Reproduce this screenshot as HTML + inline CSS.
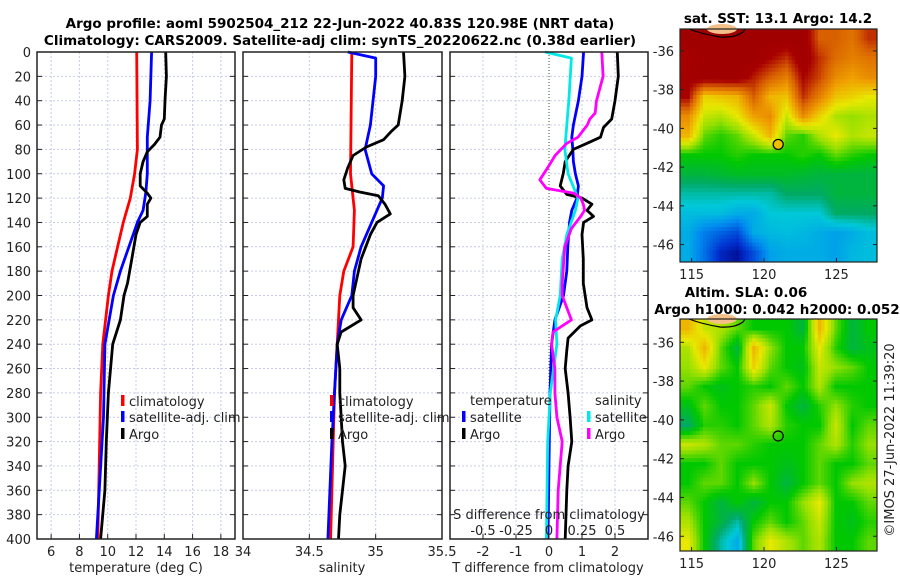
<!DOCTYPE html>
<html><head><meta charset="utf-8"><style>
body{margin:0;background:#fff;}
svg{display:block;font-family:"DejaVu Sans","Liberation Sans",sans-serif;}
</style></head><body>
<svg id="fig" width="900" height="580" viewBox="0 0 900 580" xmlns="http://www.w3.org/2000/svg">
<rect width="900" height="580" fill="#fff"/>
<g id="grids"></g>
<g id="series"></g>
<g id="maps"></g>
<g id="frames"></g>
<g id="texts" font-size="13" fill="#222">
<text x="340" y="28" text-anchor="middle" font-weight="bold" font-size="13.5" fill="#000">Argo profile: aoml 5902504_212 22-Jun-2022 40.83S 120.98E (NRT data)</text>
<text x="340" y="45" text-anchor="middle" font-weight="bold" font-size="13.5" fill="#000">Climatology: CARS2009. Satellite-adj clim: synTS_20220622.nc (0.38d earlier)</text>
<text x="778" y="23" text-anchor="middle" font-weight="bold" font-size="13.5" fill="#000">sat. SST: 13.1 Argo: 14.2</text>
<text x="746" y="297" text-anchor="middle" font-weight="bold" font-size="13.5" fill="#000">Altim. SLA: 0.06</text>
<text x="777" y="314" text-anchor="middle" font-weight="bold" font-size="13.5" fill="#000">Argo h1000: 0.042 h2000: 0.052</text>
<text x="136" y="572" text-anchor="middle">temperature (deg C)</text>
<text x="342" y="572" text-anchor="middle">salinity</text>
<text x="548" y="572" text-anchor="middle">T difference from climatology</text>
<text x="549" y="519" text-anchor="middle">S difference from climatology</text>
<text transform="translate(894,440) rotate(-90)" text-anchor="middle">©IMOS 27-Jun-2022 11:39:20</text>
</g>
<g id="legends" font-size="13" fill="#222"></g>
</svg>
<script>
// ---------- profile data ----------
const climDepth=[0,80,100,120,140,160,180,200,240,280,400];
const climT=[12.05,12.1,11.9,11.6,11.1,10.7,10.3,10.05,9.65,9.5,9.3];
const satDepth=[0,40,70,100,115,130,140,160,180,200,240,300,400];
const satT=[13.1,13.0,12.8,12.8,12.7,12.5,12.1,11.5,10.9,10.4,9.8,9.7,9.2];
const argoTDepth=[0,20,40,55,60,70,76,82,90,100,110,116,120,125,135,140,150,170,190,200,220,240,280,320,360,400];
const argoT=[14.1,14.15,14.05,14.0,13.8,13.7,13.3,12.8,12.5,12.3,12.3,12.8,13.05,12.8,12.8,12.3,12.0,11.7,11.4,11.15,10.9,10.35,10.05,9.9,9.8,9.5];

const climSDepth=[0,100,130,160,180,200,240,280,320,400];
const climS=[34.82,34.81,34.84,34.83,34.76,34.73,34.71,34.69,34.68,34.66];
const satSDepth=[0,5,20,60,80,100,110,120,140,160,180,200,220,240,280,320,400];
const satS=[34.79,35.0,35.0,34.96,34.92,34.97,35.06,35.05,34.97,34.89,34.84,34.82,34.74,34.71,34.69,34.67,34.64];
const argoSDepth=[0,20,40,60,65,72,78,85,95,105,112,115,118,125,133,140,150,170,200,210,220,230,240,260,280,300,320,340,360,380,400];
const argoS=[35.21,35.22,35.2,35.17,35.12,35.06,34.93,34.83,34.79,34.76,34.77,34.88,35.02,35.07,35.11,35.01,34.96,34.89,34.83,34.83,34.89,34.74,34.71,34.73,34.73,34.74,34.75,34.77,34.75,34.73,34.72];

const dSatSDepth=[0,5,40,80,100,120,130,150,170,200,220,240,280,320,400];
const dSatS=[-0.03,0.17,0.15,0.12,0.145,0.22,0.2,0.135,0.1,0.085,0.05,0.06,0.01,-0.01,-0.02];
const dSatTDepth=[0,20,40,60,70,80,90,100,110,120,130,140,160,180,200,220,240,280,320,400];
const dSatT=[1.05,1.0,0.89,0.74,0.69,0.72,0.74,0.8,0.89,0.85,0.69,0.62,0.57,0.54,0.44,0.18,0.08,0.03,0.01,-0.03];
const dArgoSDepth=[0,20,40,50,55,60,70,75,85,95,105,112,116,120,125,130,135,145,160,175,190,200,210,220,225,230,240,260,280,300,320,340,360,400];
const dArgoS=[0.40,0.41,0.36,0.35,0.31,0.29,0.22,0.135,0.046,-0.01,-0.07,-0.02,0.19,0.24,0.26,0.27,0.24,0.17,0.12,0.11,0.1,0.1,0.135,0.17,0.1,0.03,0.02,0.045,0.045,0.06,0.1,0.085,0.07,0.06];
const dArgoTDepth=[0,20,40,55,62,70,75,80,90,100,110,117,120,125,130,135,140,150,170,190,210,220,225,235,245,260,280,300,320,340,360,400];
const dArgoT=[2.07,2.1,2.0,1.9,1.65,1.56,1.15,0.74,0.49,0.43,0.34,0.54,1.0,1.3,1.15,1.35,1.05,1.0,1.04,1.04,1.15,1.3,0.95,0.58,0.54,0.49,0.58,0.64,0.69,0.58,0.54,0.49];

const depthTicks=[0,20,40,60,80,100,120,140,160,180,200,220,240,260,280,300,320,340,360,380,400];
const tTicks=[6,8,10,12,14,16,18];
const sTicks=[34,34.5,35,35.5];
const sTickLabels=['34','34.5','35','35.5'];
const dTTicks=[-2,-1,0,1,2];
const dSTicks=[-0.5,-0.25,0,0.25,0.5];
const dSTickLabels=['-0.5','-0.25','0','0.25','0.5'];

// ---------- map data (normalised colour index 0..1) ----------
const sstLon=[114.2,127.8];
const sstLat=[-34.87,-46.9];
const sstGrid=[
[1,1,1,1,1,1,1,1,0.85,0.85,0.82,0.9],
[0.95,1,1,1,1,0.95,0.9,1,0.9,0.83,0.8,0.82],
[0.97,1,1,1,0.92,0.85,0.8,0.95,0.88,0.78,0.75,0.78],
[0.95,0.68,0.7,0.72,0.85,0.72,0.7,0.9,0.8,0.7,0.68,0.65],
[0.78,0.62,0.6,0.65,0.75,0.78,0.62,0.78,0.68,0.6,0.58,0.6],
[0.72,0.55,0.52,0.55,0.62,0.72,0.55,0.52,0.6,0.65,0.6,0.62],
[0.5,0.5,0.5,0.52,0.5,0.5,0.5,0.52,0.5,0.55,0.52,0.5],
[0.45,0.45,0.46,0.47,0.47,0.47,0.47,0.46,0.45,0.45,0.45,0.45],
[0.38,0.38,0.38,0.38,0.38,0.38,0.42,0.42,0.42,0.45,0.45,0.45],
[0.33,0.33,0.33,0.3,0.3,0.35,0.35,0.35,0.35,0.42,0.42,0.42],
[0.3,0.22,0.18,0.14,0.3,0.32,0.33,0.32,0.3,0.28,0.3,0.33],
[0.3,0.2,0.08,0.04,0.15,0.28,0.3,0.3,0.3,0.28,0.32,0.33]];
const slaLon=[114.2,127.8];
const slaLat=[-34.8,-46.76];
const slaGrid=[
[0.72,0.62,0.6,0.55,0.5,0.5,0.5,0.45,0.72,0.55,0.45,0.5],
[0.6,0.72,0.55,0.45,0.72,0.58,0.5,0.5,0.65,0.52,0.45,0.48],
[0.58,0.65,0.55,0.5,0.68,0.55,0.5,0.48,0.62,0.58,0.55,0.5],
[0.55,0.5,0.48,0.5,0.52,0.5,0.55,0.5,0.6,0.5,0.5,0.5],
[0.48,0.55,0.5,0.5,0.55,0.62,0.5,0.45,0.52,0.58,0.52,0.5],
[0.42,0.52,0.52,0.5,0.55,0.6,0.52,0.5,0.5,0.62,0.5,0.55],
[0.62,0.6,0.55,0.55,0.52,0.5,0.5,0.5,0.55,0.6,0.52,0.58],
[0.5,0.5,0.55,0.5,0.5,0.5,0.48,0.5,0.55,0.5,0.5,0.55],
[0.5,0.55,0.55,0.5,0.58,0.5,0.45,0.5,0.55,0.5,0.58,0.6],
[0.55,0.5,0.45,0.5,0.45,0.5,0.5,0.58,0.65,0.5,0.5,0.55],
[0.6,0.5,0.45,0.38,0.5,0.55,0.5,0.55,0.62,0.5,0.48,0.52],
[0.65,0.5,0.38,0.3,0.55,0.65,0.6,0.55,0.6,0.5,0.5,0.55]];
const argoLon=120.98, argoLat=-40.83;
const latTicks=[-36,-38,-40,-42,-44,-46];
const lonTicks=[115,120,125];

// ---------- helpers ----------
const NS='http://www.w3.org/2000/svg';
function mk(tag,attrs,parent){const e=document.createElementNS(NS,tag);for(const k in attrs)e.setAttribute(k,attrs[k]);parent.appendChild(e);return e;}
const G=id=>document.getElementById(id);
const Y0=52,Y1=539;
const yD=d=>Y0+d*(Y1-Y0)/400;
const p1x=v=>37+(v-5)*(198/14);
const p2x=v=>243+(v-34)*(199/1.5);
const p3x=v=>450+(v+3)*(198/6);
const p3s=v=>p3x(v*4);
const panels=[{x0:37,x1:235,name:'temperature'},{x0:243,x1:442,name:'salinity'},{x0:450,x1:648,name:'difference'}];

// grids
const grids=G('grids');
panels.forEach(p=>{
  depthTicks.forEach(d=>{ if(d>0&&d<400){const l=mk('line',{x1:p.x0,x2:p.x1,y1:yD(d),y2:yD(d),stroke:'#c8cce8','stroke-width':1,'stroke-dasharray':'2,2'},grids);
  
  }});
});
function vgrid(x,dark){const l=mk('line',{x1:x,x2:x,y1:Y0,y2:Y1,stroke:dark?'#335533':'#c8cce8','stroke-width':1,'stroke-dasharray':dark?'1,2':'2,2'},grids);

}
tTicks.forEach(t=>vgrid(p1x(t)));
[34.5,35].forEach(s=>vgrid(p2x(s)));
dTTicks.forEach(t=>vgrid(p3x(t),t===0));

// series
const ser=G('series');
function line(depths,vals,fx,color,name){
  const pts=depths.map((d,i)=>fx(vals[i]).toFixed(1)+','+yD(d).toFixed(1)).join(' ');
  const pl=mk('polyline',{points:pts,fill:'none',stroke:color,'stroke-width':2.8,'stroke-linejoin':'round'},ser);
  
  
}
line(climDepth,climT,p1x,'#ff0000','temp-climatology-line');
line(satDepth,satT,p1x,'#0000ff','temp-satellite-line');
line(argoTDepth,argoT,p1x,'#000','temp-argo-line');
line(climSDepth,climS,p2x,'#ff0000','sal-climatology-line');
line(satSDepth,satS,p2x,'#0000ff','sal-satellite-line');
line(argoSDepth,argoS,p2x,'#000','sal-argo-line');
line(dSatTDepth,dSatT,p3x,'#0000ff','tdiff-satellite-line');
line(dArgoTDepth,dArgoT,p3x,'#000','tdiff-argo-line');
line(dSatSDepth,dSatS,p3s,'#00e8e8','sdiff-satellite-line');
line(dArgoSDepth,dArgoS,p3s,'#ff00ff','sdiff-argo-line');

// frames & ticks
const fr=G('frames'), tx=G('texts');
panels.forEach((p,pi)=>{
  const r=mk('rect',{x:p.x0,y:Y0,width:p.x1-p.x0,height:Y1-Y0,fill:'none',stroke:'#222','stroke-width':1.5},fr);
  
  
  depthTicks.forEach(d=>{
    mk('line',{x1:p.x0,x2:p.x0+5,y1:yD(d),y2:yD(d),stroke:'#222'},fr);
    mk('line',{x1:p.x1,x2:p.x1-5,y1:yD(d),y2:yD(d),stroke:'#222'},fr);
  });
});
depthTicks.forEach(d=>{const t=mk('text',{x:31,y:yD(d)+5,'text-anchor':'end'},tx);t.textContent=d;

});
function xlabels(ticks,labels,fx){ticks.forEach((v,i)=>{
  mk('line',{x1:fx(v),x2:fx(v),y1:Y1,y2:Y1-5,stroke:'#222'},fr);
  const t=mk('text',{x:fx(v),y:556,'text-anchor':'middle'},tx);t.textContent=labels[i];
  
  });}
xlabels(tTicks,tTicks.map(String),p1x);
xlabels(sTicks,sTickLabels,p2x);
xlabels(dTTicks,dTTicks.map(String),p3x);
dSTicks.forEach((v,i)=>{const t=mk('text',{x:p3s(v),y:535,'text-anchor':'middle'},tx);t.textContent=dSTickLabels[i];

});

// legends
const lg=G('legends');
function entry(x,y,color,label){
  if(color){const m=mk('rect',{x:x-8,y:y-11,width:3.5,height:11,fill:color},lg);
  
  }
  const t=mk('text',{x:x,y:y},lg);t.textContent=label;
  
  
}
entry(129,406,'#ff0000','climatology');entry(129,422,'#0000ff','satellite-adj. clim');entry(129,439,'#000','Argo');
entry(338,406,'#ff0000','climatology');entry(338,422,'#0000ff','satellite-adj. clim');entry(338,439,'#000','Argo');
entry(470,405,null,'temperature');entry(470,422,'#0000ff','satellite');entry(470,439,'#000','Argo');
entry(595,405,null,'salinity');entry(595,422,'#00e8e8','satellite');entry(595,439,'#ff00ff','Argo');

// maps
const stops=[[0,[0,0,122]],[0.1,[0,48,208]],[0.25,[0,144,240]],[0.35,[0,200,216]],[0.42,[0,170,100]],[0.5,[0,200,0]],[0.58,[150,224,0]],[0.65,[232,232,0]],[0.75,[240,160,0]],[0.85,[216,96,0]],[0.95,[168,0,0]],[1,[160,0,0]]];
function cmap(v){for(let i=1;i<stops.length;i++){if(v<=stops[i][0]){const a=stops[i-1],b=stops[i],f=(v-a[0])/(b[0]-a[0]);
return 'rgb('+a[1].map((c,k)=>Math.round(c+(b[1][k]-c)*f)).join(',')+')';}}return 'rgb(160,0,0)';}
function sample(grid,u,v){ // bilinear, u,v in cell units (centres at i+0.5)
  const R=grid.length,C=grid[0].length;
  let x=Math.min(Math.max(u-0.5,0),C-1),y=Math.min(Math.max(v-0.5,0),R-1);
  const x0=Math.floor(x),y0=Math.floor(y),x1=Math.min(x0+1,C-1),y1=Math.min(y0+1,R-1),fx=x-x0,fy=y-y0;
  return grid[y0][x0]*(1-fx)*(1-fy)+grid[y0][x1]*fx*(1-fy)+grid[y1][x0]*(1-fx)*fy+grid[y1][x1]*fx*fy;
}
const maps=G('maps');
function drawMap(grid,lon,lat,X0,X1,MY0,MY1,name,sla){
  const g=mk('g',{},maps);
  
  
  const mx=v=>X0+(v-lon[0])/(lon[1]-lon[0])*(X1-X0);
  const my=v=>MY0+(v-lat[0])/(lat[1]-lat[0])*(MY1-MY0);
  const R=grid.length,C=grid[0].length,SUB=5,cw=(X1-X0)/(C*SUB),ch=(MY1-MY0)/(R*SUB);
  for(let r=0;r<R*SUB;r++)for(let c=0;c<C*SUB;c++){
    const v=sample(grid,(c+0.5)/SUB,(r+0.5)/SUB);
    const cell=mk('rect',{x:(X0+c*cw).toFixed(2),y:(MY0+r*ch).toFixed(2),width:(cw+0.5).toFixed(2),height:(ch+0.5).toFixed(2),fill:cmap(v)},g);
    
    
  }
  // land at top
  const pe=mk('ellipse',{cx:X0+42,cy:MY0,rx:15,ry:5,fill:'#f4c08a'},g);
  
  
  const land=mk('path',{d:`M${X0+9},${MY0} Q${X0+22},${MY0+5} ${X0+40},${MY0+8} Q${X0+55},${MY0+9} ${X0+63},${MY0+3} L${X0+65},${MY0}`,fill:'none',stroke:'#000','stroke-width':1.2},g);
  
  
  const fm=mk('rect',{x:X0,y:MY0,width:X1-X0,height:MY1-MY0,fill:'none',stroke:'#222','stroke-width':1.2},g);
  
  
  latTicks.forEach(v=>{const y=my(v);mk('line',{x1:X0,x2:X0+4,y1:y,y2:y,stroke:'#222'},g);mk('line',{x1:X1,x2:X1-4,y1:y,y2:y,stroke:'#222'},g);
    const t=mk('text',{x:X0-6,y:y+5,'text-anchor':'end','font-size':13,fill:'#222'},g);t.textContent=v;
    
    });
  lonTicks.forEach(v=>{const x=mx(v);mk('line',{x1:x,x2:x,y1:MY1,y2:MY1-4,stroke:'#222'},g);
    const t=mk('text',{x:x,y:MY1+17,'text-anchor':'middle','font-size':13,fill:'#222'},g);t.textContent=v;
    
    });
  const c=mk('circle',{cx:mx(argoLon),cy:my(argoLat),r:5,fill:sla?'none':'#f0c000',stroke:'#000','stroke-width':1.2},g);
  
  
}
drawMap(sstGrid,sstLon,sstLat,680,877,29,262,'sst-map',false);
drawMap(slaGrid,slaLon,slaLat,680,877,319,551,'sla-map',true);
</script>
</body></html>
